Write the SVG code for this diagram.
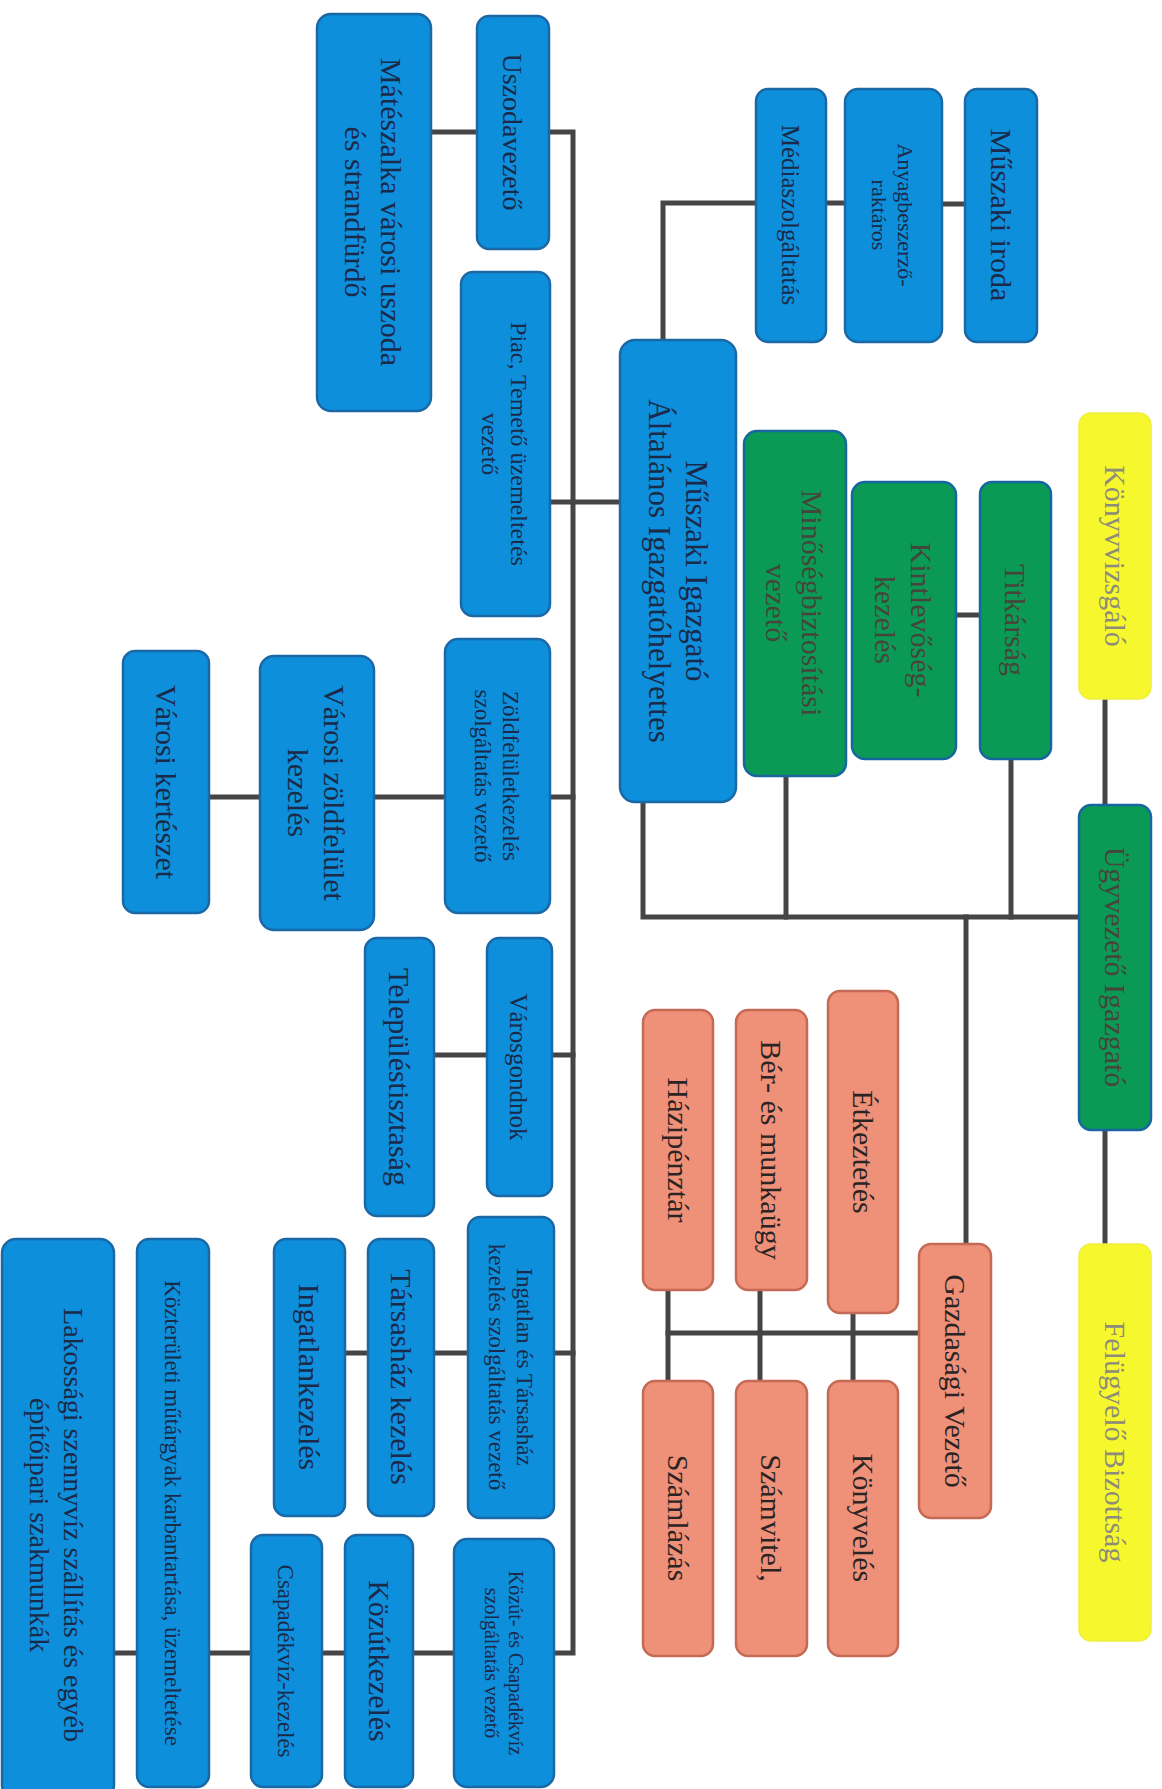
<svg xmlns="http://www.w3.org/2000/svg" width="1162" height="1789" viewBox="0 0 1162 1789">
<style>
.bg{fill:#ffffff}
.b rect{fill:#0d8fdc;stroke:#1a68a6;stroke-width:2.5}
.g rect{fill:#0b9a55;stroke:#1766a0;stroke-width:2.5}
.y rect{fill:#f7f72e;stroke:#f0ee40;stroke-width:1.5}
.s rect{fill:#ef9078;stroke:#c46a55;stroke-width:2.5}
text{font-family:"Liberation Serif","Times New Roman",serif;text-anchor:middle}
.b text{fill:#1b2a48}
.g text{fill:#44463a}
.y text{fill:#8c8c78}
.s text{fill:#2b2424}
.c line,.c polyline{stroke:#454545;stroke-width:5;fill:none;stroke-linecap:square}
</style>
<rect class="bg" x="0" y="0" width="1162" height="1789"/>
<g class="c" id="connectors">
<polyline points="549,132 573,132 573,1653 554,1653"/>
<line x1="431" y1="132" x2="477" y2="132"/>
<line x1="550" y1="502" x2="620" y2="502"/>
<line x1="209" y1="797" x2="260" y2="797"/>
<line x1="374" y1="797" x2="445" y2="797"/>
<line x1="550" y1="797" x2="573" y2="797"/>
<line x1="434" y1="1055" x2="487" y2="1055"/>
<line x1="552" y1="1055" x2="573" y2="1055"/>
<line x1="345" y1="1353" x2="368" y2="1353"/>
<line x1="434" y1="1353" x2="468" y2="1353"/>
<line x1="554" y1="1353" x2="573" y2="1353"/>
<line x1="114" y1="1653" x2="137" y2="1653"/>
<line x1="209" y1="1653" x2="251" y2="1653"/>
<line x1="322" y1="1653" x2="345" y2="1653"/>
<line x1="413" y1="1653" x2="454" y2="1653"/>
<polyline points="663,340 663,203 756,203"/>
<line x1="826" y1="203" x2="845" y2="203"/>
<line x1="942" y1="204" x2="965" y2="204"/>
<line x1="956" y1="615" x2="980" y2="615"/>
<polyline points="643,802 643,917 1079,917"/>
<line x1="786" y1="776" x2="786" y2="917"/>
<line x1="1011" y1="759" x2="1011" y2="917"/>
<line x1="966" y1="917" x2="966" y2="1244"/>
<line x1="1105" y1="699" x2="1105" y2="805"/>
<line x1="1105" y1="1130" x2="1105" y2="1244"/>
<line x1="668" y1="1333" x2="919" y2="1333"/>
<line x1="668" y1="1290" x2="668" y2="1381"/>
<line x1="760" y1="1290" x2="760" y2="1381"/>
<line x1="853" y1="1313" x2="853" y2="1381"/>
</g>

<g id="n_uszoda_strand" class="b"><rect x="317" y="14" width="114" height="397" rx="14"/>
<text transform="translate(374,212) rotate(90)" font-size="30"><tspan x="0" y="-7">Mátészalka városi uszoda</tspan><tspan x="0" y="29">és strandfürdő</tspan></text></g>
<g id="n_uszodavezeto" class="b"><rect x="477" y="16" width="72" height="233" rx="12"/>
<text transform="translate(513,132) rotate(90)" font-size="28" y="10">Uszodavezető</text></g>
<g id="n_piac" class="b"><rect x="461" y="272" width="89" height="344" rx="12"/>
<text transform="translate(505,444) rotate(90)" font-size="24"><tspan x="0" y="-6">Piac, Temető üzemeltetés</tspan><tspan x="0" y="23">vezető</tspan></text></g>
<g id="n_zold_vez" class="b"><rect x="445" y="639" width="105" height="274" rx="13"/>
<text transform="translate(497,776) rotate(90)" font-size="23"><tspan x="0" y="-6">Zöldfelületkezelés</tspan><tspan x="0" y="22">szolgáltatás vezető</tspan></text></g>
<g id="n_varosi_zold" class="b"><rect x="260" y="656" width="114" height="274" rx="14"/>
<text transform="translate(317,793) rotate(90)" font-size="30"><tspan x="0" y="-7">Városi zöldfelület</tspan><tspan x="0" y="29">kezelés</tspan></text></g>
<g id="n_kerteszet" class="b"><rect x="123" y="651" width="86" height="262" rx="12"/>
<text transform="translate(166,782) rotate(90)" font-size="30" y="10">Városi kertészet</text></g>
<g id="n_varosgondnok" class="b"><rect x="487" y="938" width="65" height="258" rx="12"/>
<text transform="translate(519,1067) rotate(90)" font-size="25" y="9">Városgondnok</text></g>
<g id="n_telepules" class="b"><rect x="365" y="938" width="69" height="278" rx="12"/>
<text transform="translate(399,1077) rotate(90)" font-size="30" y="10">Településtisztaság</text></g>
<g id="n_ingatlan_vez" class="b"><rect x="468" y="1217" width="86" height="301" rx="12"/>
<text transform="translate(511,1367) rotate(90)" font-size="23"><tspan x="0" y="-6">Ingatlan és Társasház</tspan><tspan x="0" y="22">kezelés szolgáltatás vezető</tspan></text></g>
<g id="n_tarsashaz" class="b"><rect x="368" y="1239" width="66" height="277" rx="12"/>
<text transform="translate(401,1377) rotate(90)" font-size="30" y="10">Társasház kezelés</text></g>
<g id="n_ingatlankezeles" class="b"><rect x="274" y="1239" width="71" height="277" rx="12"/>
<text transform="translate(309,1377) rotate(90)" font-size="30" y="10">Ingatlankezelés</text></g>
<g id="n_kozut_vez" class="b"><rect x="454" y="1539" width="100" height="248" rx="13"/>
<text transform="translate(504,1663) rotate(90)" font-size="20"><tspan x="0" y="-5">Közút- és Csapadékvíz</tspan><tspan x="0" y="19">szolgáltatás vezető</tspan></text></g>
<g id="n_kozutkezeles" class="b"><rect x="345" y="1535" width="68" height="252" rx="12"/>
<text transform="translate(379,1661) rotate(90)" font-size="30" y="10">Közútkezelés</text></g>
<g id="n_csapadek" class="b"><rect x="251" y="1535" width="71" height="252" rx="12"/>
<text transform="translate(286,1661) rotate(90)" font-size="23" y="8">Csapadékvíz-kezelés</text></g>
<g id="n_kozterulet" class="b"><rect x="137" y="1239" width="72" height="548" rx="12"/>
<text transform="translate(173,1513) rotate(90)" font-size="23" y="8">Közterületi műtárgyak karbantartása, üzemeltetése</text></g>
<g id="n_lakossagi" class="b"><rect x="2" y="1239" width="112" height="560" rx="14"/>
<text transform="translate(57,1525) rotate(90)" font-size="28"><tspan x="0" y="-7">Lakossági szennyvíz szállítás és egyéb</tspan><tspan x="0" y="27">építőipari szakmunkák</tspan></text></g>

<g id="n_muszaki" class="b"><rect x="620" y="340" width="116" height="462" rx="15"/>
<text transform="translate(678,571) rotate(90)" font-size="31"><tspan x="0" y="-8">Műszaki Igazgató</tspan><tspan x="0" y="29">Általános Igazgatóhelyettes</tspan></text></g>
<g id="n_media" class="b"><rect x="756" y="89" width="70" height="253" rx="12"/>
<text transform="translate(791,215) rotate(90)" font-size="25" y="9">Médiaszolgáltatás</text></g>
<g id="n_anyag" class="b"><rect x="845" y="89" width="97" height="253" rx="13"/>
<text transform="translate(893,215) rotate(90)" font-size="22"><tspan x="0" y="-5">Anyagbeszerző-</tspan><tspan x="0" y="21">raktáros</tspan></text></g>
<g id="n_muszaki_iroda" class="b"><rect x="965" y="89" width="72" height="253" rx="12"/>
<text transform="translate(1001,215) rotate(90)" font-size="30" y="10">Műszaki iroda</text></g>

<g id="n_minoseg" class="g"><rect x="744" y="431" width="102" height="345" rx="13"/>
<text transform="translate(795,603) rotate(90)" font-size="30"><tspan x="0" y="-7">Minőségbiztosítási</tspan><tspan x="0" y="29">vezető</tspan></text></g>
<g id="n_kintlevoseg" class="g"><rect x="852" y="482" width="104" height="277" rx="13"/>
<text transform="translate(904,620) rotate(90)" font-size="30"><tspan x="0" y="-7">Kintlevőség-</tspan><tspan x="0" y="29">kezelés</tspan></text></g>
<g id="n_titkarsag" class="g"><rect x="980" y="482" width="71" height="277" rx="12"/>
<text transform="translate(1015,620) rotate(90)" font-size="30" y="10">Titkárság</text></g>
<g id="n_ugyvezeto" class="g"><rect x="1079" y="805" width="72" height="325" rx="12"/>
<text transform="translate(1115,967) rotate(90)" font-size="30" y="10">Ügyvezető Igazgató</text></g>

<g id="n_konyvvizsgalo" class="y"><rect x="1079" y="413" width="72" height="286" rx="12"/>
<text transform="translate(1115,556) rotate(90)" font-size="30" y="10">Könyvvizsgáló</text></g>
<g id="n_felugyelo" class="y"><rect x="1079" y="1244" width="72" height="397" rx="12"/>
<text transform="translate(1115,1442) rotate(90)" font-size="30" y="10">Felügyelő Bizottság</text></g>

<g id="n_gazdasagi" class="s"><rect x="919" y="1244" width="72" height="274" rx="12"/>
<text transform="translate(955,1381) rotate(90)" font-size="30" y="10">Gazdasági Vezető</text></g>
<g id="n_etkeztetes" class="s"><rect x="828" y="991" width="70" height="322" rx="12"/>
<text transform="translate(863,1152) rotate(90)" font-size="30" y="10">Étkeztetés</text></g>
<g id="n_ber" class="s"><rect x="736" y="1010" width="71" height="280" rx="12"/>
<text transform="translate(771,1150) rotate(90)" font-size="30" y="10">Bér- és munkaügy</text></g>
<g id="n_hazi" class="s"><rect x="643" y="1010" width="70" height="280" rx="12"/>
<text transform="translate(678,1150) rotate(90)" font-size="30" y="10">Házipénztár</text></g>
<g id="n_konyveles" class="s"><rect x="828" y="1381" width="70" height="275" rx="12"/>
<text transform="translate(863,1518) rotate(90)" font-size="30" y="10">Könyvelés</text></g>
<g id="n_szamvitel" class="s"><rect x="736" y="1381" width="71" height="275" rx="12"/>
<text transform="translate(771,1518) rotate(90)" font-size="30" y="10">Számvitel,</text></g>
<g id="n_szamlazas" class="s"><rect x="643" y="1381" width="70" height="275" rx="12"/>
<text transform="translate(678,1518) rotate(90)" font-size="30" y="10">Számlázás</text></g>
</svg>
